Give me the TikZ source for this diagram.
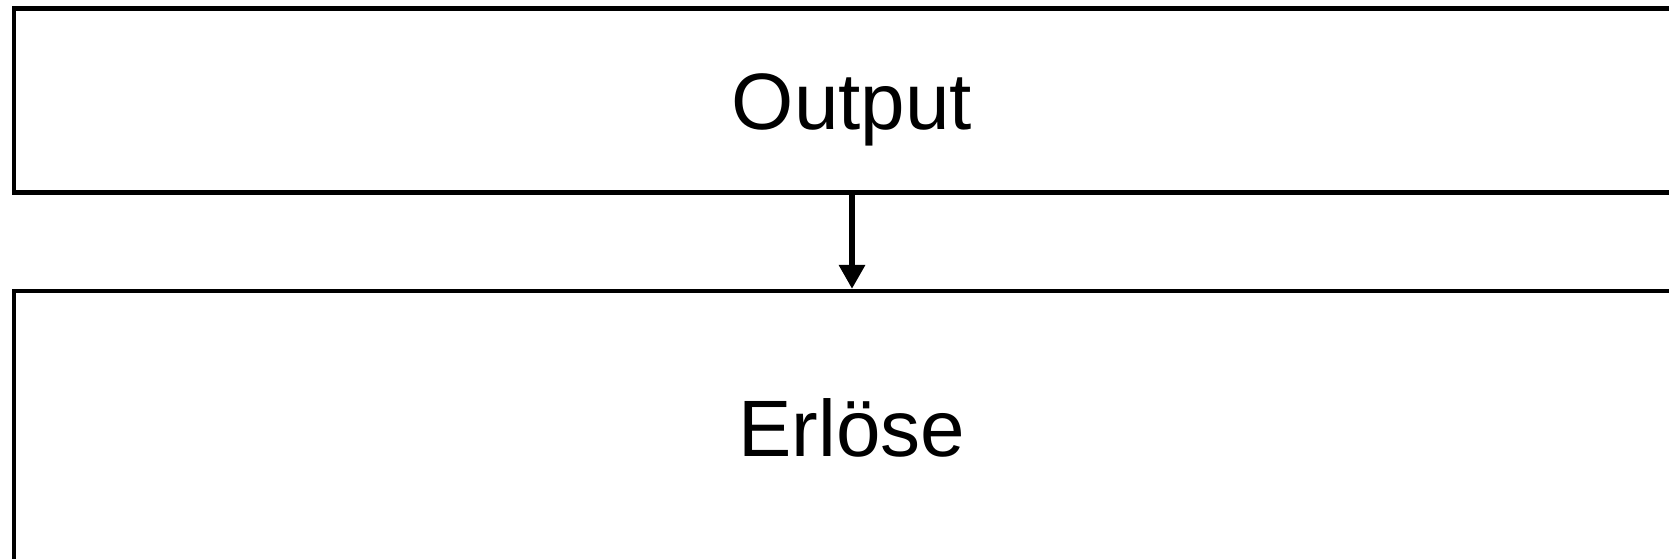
\documentclass[tikz,border=0pt]{standalone}
\usepackage{fontspec}
\setmainfont{Liberation Sans}
\usetikzlibrary{arrows.meta}
\begin{document}
\begin{tikzpicture}[x=0.5pt,y=-0.5pt]
\tikzset{
  box/.style={draw=black, line width=2.1pt, fill=white, inner sep=0pt,
    font=\fontsize{40}{48}\selectfont, text height=28.6pt, text depth=0pt},
  conn/.style={draw=black, line width=3.2pt, -{Triangle[width=12.5pt,length=12pt]}}
}
\useasboundingbox (0,0) rectangle (1669,558);
\clip (0,0) rectangle (1669,558);
\node[box, minimum width=838pt, minimum height=92pt] (out) at (852,100.5) {Output};
\node[box, minimum width=838pt, minimum height=137pt] (erl) at (852,428) {Erlöse};
\draw[conn] (out.south) -- (erl.north);
\end{tikzpicture}
\end{document}
